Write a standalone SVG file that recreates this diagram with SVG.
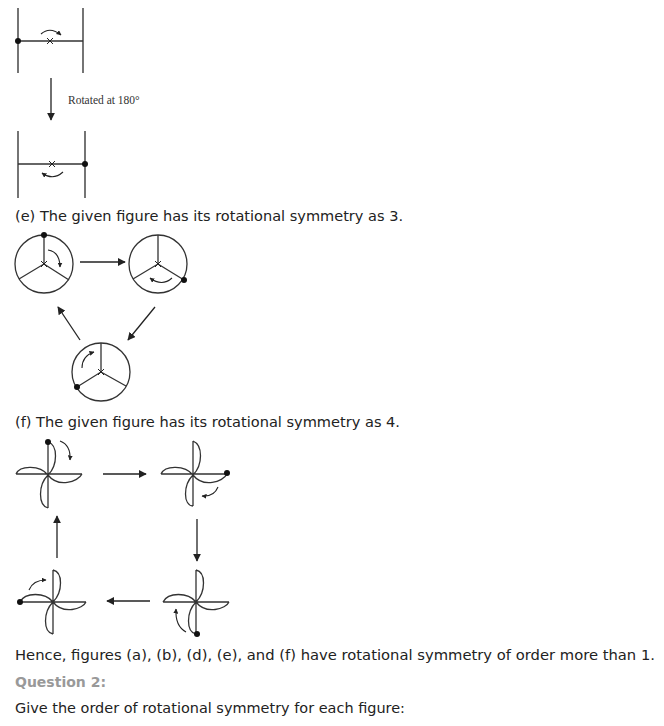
<svg xmlns="http://www.w3.org/2000/svg" width="664" height="726" viewBox="0 0 664 726">
<defs>
<marker id="ah" viewBox="0 0 10 10" refX="9" refY="5" markerWidth="8" markerHeight="8" markerUnits="userSpaceOnUse" orient="auto"><path d="M0,0 L10,5 L0,10 z" fill="#222"/></marker>
<marker id="sh" viewBox="0 0 10 10" refX="9" refY="5" markerWidth="5" markerHeight="5" markerUnits="userSpaceOnUse" orient="auto"><path d="M0,0 L10,5 L0,10 z" fill="#222"/></marker>
</defs>
<style>
.l{stroke:#333;stroke-width:1.3;fill:none}
.g{stroke:#666;stroke-width:1.8;fill:none}
.c{stroke:#222;stroke-width:1.1;fill:none;marker-end:url(#sh)}
.a{stroke:#222;stroke-width:1.3;fill:none;marker-end:url(#ah)}
.t{font-family:Verdana,"DejaVu Sans",sans-serif;font-size:13.5px;fill:#222}
.x{stroke:#222;stroke-width:1;fill:none}
</style>
<rect width="664" height="726" fill="#fff"/>
<g id="fig-top">
<path class="g" d="M18,8V73M83,8V73"/><path class="l" d="M18,41H83"/>
<circle cx="18" cy="41" r="3" fill="#111"/><path class="x" d="M47,38l6,6M53,38l-6,6"/>
<path class="c" d="M41,34 Q50,26 61,35"/>
</g>
<g id="fig-rot">
<path class="g" d="M18,131V198M85,131V198"/><path class="l" d="M18,164H85"/>
<circle cx="85" cy="164" r="3" fill="#111"/><path class="x" d="M49,161l6,6M55,161l-6,6"/>
<path class="c" d="M63,172 Q53,181 42,173"/>
</g>
<text x="68" y="104" style="font-family:'Liberation Serif',serif;font-size:11.5px;fill:#333">Rotated at 180°</text>
<g id="circle1"><circle class="l" cx="44" cy="264" r="29"/><path class="l" d="M44,235V264L19,279M44,264L69,280"/><circle cx="44" cy="235" r="3" fill="#111"/><path class="x" d="M41,261l6,6M47,261l-6,6"/><path class="c" d="M48,250 Q60,252 60,267"/></g>
<g id="circle2"><circle class="l" cx="158" cy="264" r="29"/><path class="l" d="M158,235V264L133,279M158,264L184,280"/><circle cx="184" cy="280" r="3" fill="#111"/><path class="x" d="M155,261l6,6M161,261l-6,6"/><path class="c" d="M172,278 Q162,287 150,278"/></g>
<g id="circle3"><circle class="l" cx="101" cy="372" r="29"/><path class="l" d="M101,343V372L77,387M101,372L126,386"/><circle cx="77" cy="387" r="3" fill="#111"/><path class="x" d="M98,369l6,6M104,369l-6,6"/><path class="c" d="M82,368 Q82,356 94,352"/></g>
<g id="pin1"><path class="l" d="M48,442V508M16,474H82M48,475C58,465 58,445 48,442M48,475C58,488 78,482 82,474M48,475C38,485 38,505 48,508M48,475C40,465 20,465 16,474"/><circle cx="48" cy="442" r="3" fill="#111"/><path class="c" d="M60,441 Q71,445 70,460"/></g>
<g id="pin2"><path class="l" d="M193,441V506M161,474H227M193,475C203,465 203,445 193,441M193,475C203,488 223,482 227,474M193,475C183,485 183,505 193,506M193,475C185,465 165,465 161,474"/><circle cx="227" cy="473" r="3" fill="#111"/><path class="c" d="M218,487 Q214,497 202,496"/></g>
<g id="pin3"><path class="l" d="M196,570V634M163,602H229M196,602C206,592 206,572 196,570M196,602C206,615 226,609 229,602M196,602C186,612 186,632 196,634M196,602C188,592 168,592 163,602"/><circle cx="197" cy="634" r="3" fill="#111"/><path class="c" d="M186,632 Q175,626 176,609"/></g>
<g id="pin4"><path class="l" d="M53,570V634M20,602H86M53,602C63,592 63,572 53,570M53,602C63,615 83,609 86,602M53,602C43,612 43,632 53,634M53,602C45,592 25,592 20,602"/><circle cx="20" cy="602" r="3" fill="#111"/><path class="c" d="M29,590 Q33,580 46,580"/></g>
<g id="connectors">
<path class="a" d="M51,78V120"/>
<path class="a" d="M80,262H125"/>
<path class="a" d="M155,307L128,340"/>
<path class="a" d="M80,340L58,307"/>
<path class="a" d="M103,474H146"/>
<path class="a" d="M197,519V561"/>
<path class="a" d="M150,601H107"/>
<path class="a" d="M57,558V516"/>
</g>
<text class="t" x="15" y="221" textLength="388" lengthAdjust="spacingAndGlyphs">(e) The given figure has its rotational symmetry as 3.</text>
<text class="t" x="15" y="427" textLength="385" lengthAdjust="spacingAndGlyphs">(f) The given figure has its rotational symmetry as 4.</text>
<text class="t" x="15" y="660" textLength="640" lengthAdjust="spacingAndGlyphs">Hence, figures (a), (b), (d), (e), and (f) have rotational symmetry of order more than 1.</text>
<text class="t" x="15" y="687" textLength="91" lengthAdjust="spacingAndGlyphs" style="font-weight:bold;fill:#999">Question 2:</text>
<text class="t" x="15" y="713" textLength="390" lengthAdjust="spacingAndGlyphs">Give the order of rotational symmetry for each figure:</text>
</svg>
